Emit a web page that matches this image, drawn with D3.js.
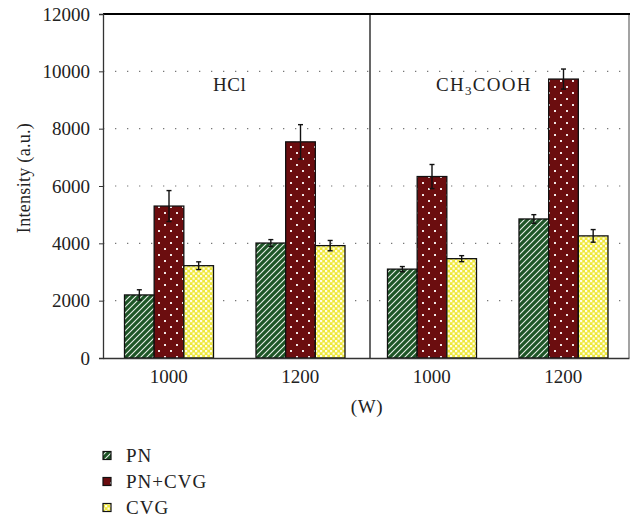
<!DOCTYPE html>
<html><head><meta charset="utf-8">
<script src="https://cdn.jsdelivr.net/npm/d3@7"></script>
<style>body{margin:0;background:#fff}svg{display:block}text{font-family:"Liberation Serif","Times New Roman",serif;fill:#222}</style>
</head><body><svg id="c" width="634" height="522"></svg>
<script>
const groups = ["HCl-1000","HCl-1200","CH3COOH-1000","CH3COOH-1200"];
const groupLabels = ["1000","1200","1000","1200"];
const series = ["PN","PN+CVG","CVG"];
const valuesPN = [2200, 4010, 3100, 4850];
const valuesPNCVG = [5300, 7540, 6330, 9730];
const valuesCVG = [3220, 3920, 3465, 4260];
const errPN = [180, 120, 90, 150];
const errPNCVG = [540, 600, 420, 350];
const errCVG = [135, 180, 105, 220];
const yTicks = [0,2000,4000,6000,8000,10000,12000];

const values = [valuesPN, valuesPNCVG, valuesCVG];
const errs = [errPN, errPNCVG, errCVG];
const data = [];
groups.forEach((g,gi)=>series.forEach((s,si)=>data.push({g,s,si,v:values[si][gi],e:errs[si][gi]})));

const svg = d3.select("#c");
const L=103, R=629, T=14, B=358;
const x = d3.scaleBand().domain(groups).range([L,R]);
const xi = d3.scaleBand().domain(series).range([21.5, x.bandwidth()-21]);
const y = d3.scaleLinear().domain([0,12000]).range([B,T]);

const defs = svg.append("defs");
const p1 = defs.append("pattern").attr("id","pPN").attr("patternUnits","userSpaceOnUse").attr("width",6).attr("height",6);
p1.append("rect").attr("width",6).attr("height",6).attr("fill","#1d5526");
p1.append("path").attr("d","M-1,7 L7,-1 M-4,4 L4,-4 M2,10 L10,2").attr("stroke","#e8efe8").attr("stroke-width",1.1);
const p2 = defs.append("pattern").attr("id","pPNCVG").attr("patternUnits","userSpaceOnUse").attr("width",12).attr("height",12);
p2.append("rect").attr("width",12).attr("height",12).attr("fill","#6b0d0f");
p2.append("rect").attr("x",2).attr("y",2).attr("width",2).attr("height",2).attr("fill","#f2e6e6");
p2.append("rect").attr("x",8).attr("y",8).attr("width",2).attr("height",2).attr("fill","#f2e6e6");
const p3 = defs.append("pattern").attr("id","pCVG").attr("patternUnits","userSpaceOnUse").attr("width",5).attr("height",5);
p3.append("rect").attr("width",5).attr("height",5).attr("fill","#efe83a");
p3.append("rect").attr("x",0).attr("y",0).attr("width",2.2).attr("height",2.2).attr("fill","#fffde8");
p3.append("rect").attr("x",2.5).attr("y",2.5).attr("width",2.2).attr("height",2.2).attr("fill","#fffde8");
const fills = ["url(#pPN)","url(#pPNCVG)","url(#pCVG)"];

svg.append("g").selectAll("line").data(yTicks.filter(t=>t>0&&t<12000)).join("line")
  .attr("x1",L).attr("x2",R).attr("y1",d=>y(d)).attr("y2",d=>y(d))
  .attr("stroke","#777").attr("stroke-width",1.2).attr("stroke-dasharray","1.3,10.7");

svg.append("line").attr("x1",370).attr("x2",370).attr("y1",T).attr("y2",B).attr("stroke","#000").attr("stroke-width",1.2);
svg.append("line").attr("x1",R).attr("x2",R).attr("y1",T).attr("y2",B).attr("stroke","#666").attr("stroke-width",1.2);
svg.append("line").attr("x1",L).attr("x2",R+1).attr("y1",T).attr("y2",T).attr("stroke","#000").attr("stroke-width",2);

svg.append("g").selectAll("rect").data(data).join("rect")
  .attr("x",d=>x(d.g)+xi(d.s)).attr("width",xi.bandwidth())
  .attr("y",d=>y(d.v)).attr("height",d=>y(0)-y(d.v))
  .attr("fill",d=>fills[d.si]).attr("stroke","#111").attr("stroke-width",1.3);

const eg = svg.append("g").attr("stroke","#111").attr("stroke-width",1.4);
data.forEach(d=>{
  const cx = x(d.g)+xi(d.s)+xi.bandwidth()/2;
  eg.append("line").attr("x1",cx).attr("x2",cx).attr("y1",y(d.v+d.e)).attr("y2",y(d.v-d.e));
  eg.append("line").attr("x1",cx-2.5).attr("x2",cx+2.5).attr("y1",y(d.v+d.e)).attr("y2",y(d.v+d.e));
  eg.append("line").attr("x1",cx-2.5).attr("x2",cx+2.5).attr("y1",y(d.v-d.e)).attr("y2",y(d.v-d.e));
});

const ya = svg.append("g").attr("transform",`translate(${L},0)`)
  .call(d3.axisLeft(y).tickValues(yTicks).tickFormat(d3.format("d")).tickSize(4).tickPadding(9));
ya.select(".domain").attr("stroke","#333").attr("stroke-width",1.3);
ya.selectAll(".tick line").attr("stroke","#333");
ya.selectAll("text").attr("font-size",19).attr("font-family","Liberation Serif").attr("fill","#222");

const xa = svg.append("g").attr("transform",`translate(0,${B})`)
  .call(d3.axisBottom(x).tickFormat((d,i)=>groupLabels[i]).tickSize(0).tickPadding(12));
xa.select(".domain").attr("stroke","#333").attr("stroke-width",1.5);
xa.selectAll("text").attr("font-size",19).attr("font-family","Liberation Serif").attr("fill","#222");

svg.append("text").attr("x",367).attr("y",413).attr("text-anchor","middle").attr("font-size",19).attr("letter-spacing",0.6).text("(W)");
svg.append("text").attr("transform","translate(30,178) rotate(-90)").attr("text-anchor","middle").attr("font-size",18).attr("letter-spacing",0.3).text("Intensity (a.u.)");

svg.append("text").attr("x",213).attr("y",91).attr("font-size",19).attr("letter-spacing",0.5).text("HCl");
const ch = svg.append("text").attr("x",436).attr("y",91).attr("font-size",19).attr("letter-spacing",1.3);
ch.append("tspan").text("CH");
ch.append("tspan").attr("font-size",13).attr("dy",4).text("3");
ch.append("tspan").attr("dy",-4).text("COOH");

const lg = svg.append("g");
series.forEach((s,i)=>{
  const yy = 462 + i*26;
  lg.append("rect").attr("x",103).attr("y",yy-10.5).attr("width",8).attr("height",8)
    .attr("fill",fills[i]).attr("stroke","#111").attr("stroke-width",1.2);
  lg.append("text").attr("x",126).attr("y",yy).attr("font-size",19).attr("letter-spacing",1).text(s);
});
</script></body></html>
